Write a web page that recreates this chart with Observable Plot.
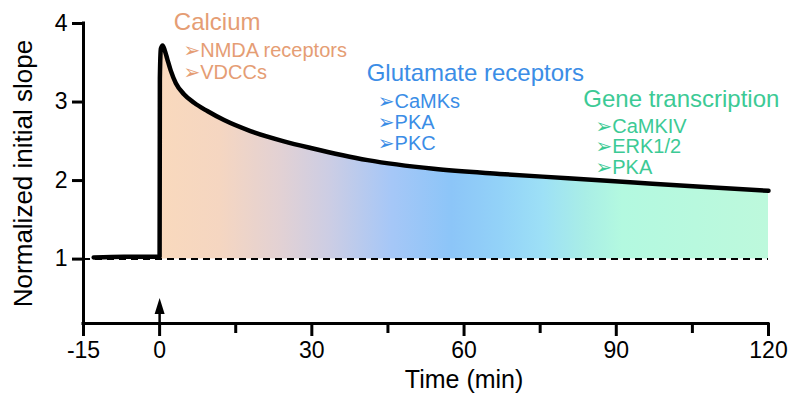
<!DOCTYPE html>
<html>
<head>
<meta charset="utf-8">
<script src="https://cdn.jsdelivr.net/npm/d3@7"></script>
<script src="https://cdn.jsdelivr.net/npm/@observablehq/plot@0.6"></script>
<style>
  html, body { margin: 0; padding: 0; background: #fff; }
</style>
</head>
<body>
<div id="chart"></div>
<script>
// ---- data ----
const time  = [-13, -7, 0, 0.05, 0.25, 0.6, 1.0, 1.5, 2.2, 3.2, 4.8, 6.8, 9.4, 12.7, 17.9, 24.5, 29.8, 41, 54, 67, 80.5, 93.5, 106.7, 120];
const slope = [1.02, 1.03, 1.03, 3.30, 3.68, 3.72, 3.66, 3.55, 3.40, 3.24, 3.10, 2.99, 2.885, 2.77, 2.63, 2.50, 2.415, 2.26, 2.15, 2.085, 2.03, 1.975, 1.92, 1.87];

const baseline = [1];
const stimulusTime = [0];
const xTicksLabeled = [-15, 0, 30, 60, 90, 120];
const xTicksMinor = [15, 45, 75, 105];
const yTicks = [1, 2, 3, 4];

const calciumHeader = ["Calcium"];
const calciumItems = ["NMDA receptors", "VDCCs"];
const glutamateHeader = ["Glutamate receptors"];
const glutamateItems = ["CaMKs", "PKA", "PKC"];
const geneHeader = ["Gene transcription"];
const geneItems = ["CaMKIV", "ERK1/2", "PKA"];

const xLabel = "Time (min)";
const yLabel = "Normalized initial slope";

// ---- styling ----
const xDomain = [-15, 120];
const yDomain = [0.18, 4];
const cCalcium = "#e59d74";
const cGlut = "#3b8de6";
const cGene = "#3cca95";
const gradStops = [
  [0.00, "#f9d9bd"], [0.10, "#f5d6c1"], [0.20, "#e2d1d4"], [0.28, "#cccde4"],
  [0.38, "#a6c7f7"], [0.48, "#8cc5f8"], [0.56, "#93d2f8"], [0.63, "#9de0f6"],
  [0.70, "#a9eee6"], [0.76, "#b3f9e0"], [1.00, "#bdf9dc"]
];

const pts = time.map((t, i) => ({t, v: slope[i]}));
const areaPts = pts.filter(d => d.t >= 0);
const arrowHead = {
  draw(ctx) { ctx.moveTo(0, -8); ctx.lineTo(5, 8); ctx.lineTo(-5, 8); ctx.closePath(); }
};
const fontMain = "Liberation Sans, Arial, DejaVu Sans, sans-serif";
const bullet = s => "\u27A2" + s;

const svg = Plot.plot({
  width: 800,
  height: 413,
  marginLeft: 83,
  marginRight: 32,
  marginTop: 23,
  marginBottom: 90,
  style: {fontFamily: fontMain, color: "#000", background: "#fff", overflow: "visible"},
  x: {domain: xDomain, label: null},
  y: {domain: yDomain, label: null},
  marks: [
    Plot.areaY(areaPts, {x: "t", y1: 1, y2: "v", fill: "url(#ltpGrad)", curve: "monotone-x"}),
    Plot.ruleY(baseline, {x1: xDomain[0], x2: xDomain[1], stroke: "#000", strokeWidth: 2, strokeDasharray: "7,5"}),
    Plot.line(pts, {x: "t", y: "v", stroke: "#000", strokeWidth: 4.5, curve: "monotone-x", strokeLinejoin: "round", strokeLinecap: "round"}),
    // axes lines
    Plot.ruleX([xDomain[0]], {stroke: "#000", strokeWidth: 3, strokeLinecap: "square"}),
    Plot.ruleY([yDomain[0]], {stroke: "#000", strokeWidth: 3, strokeLinecap: "square"}),
    Plot.axisX(xTicksLabeled, {tickSize: 13, tickPadding: 5, fontSize: 23, strokeWidth: 3, tickFormat: d => String(d), label: null}),
    Plot.axisX(xTicksMinor, {tickSize: 10, tickFormat: () => "", strokeWidth: 3, label: null}),
    Plot.axisY(yTicks, {tickSize: 11, tickPadding: 5, fontSize: 23, strokeWidth: 3, tickFormat: d => String(d), label: null}),
    // stimulus arrow
    Plot.ruleX(stimulusTime, {y1: yDomain[0], y2: 0.42, stroke: "#000", strokeWidth: 2.5}),
    Plot.dot(stimulusTime, {x: d => d, y: 0.404, symbol: arrowHead, fill: "#000", stroke: "none", r: 5}),
    // axis labels
    Plot.text([xLabel], {x: 60, frameAnchor: "bottom", dy: 64, text: d => d, fontSize: 25, textAnchor: "middle", lineAnchor: "bottom", fill: "#000"}),
    Plot.text([yLabel], {frameAnchor: "left", dx: -60, rotate: -90, text: d => d, fontSize: 26, textAnchor: "middle", fill: "#000"}),
    // annotations
    Plot.text(calciumHeader, {x: 2.8, y: 4.01, text: d => d, fill: cCalcium, fontSize: 24, textAnchor: "start"}),
    Plot.text([calciumItems.map(bullet).join("\n")], {x: 4.7, y: 3.777, text: d => d, fill: cCalcium, fontSize: 20, textAnchor: "start", lineAnchor: "top", lineHeight: 1.1}),
    Plot.text(glutamateHeader, {x: 40.8, y: 3.36, text: d => d, fill: cGlut, fontSize: 24, textAnchor: "start"}),
    Plot.text([glutamateItems.map(bullet).join("\n")], {x: 43.0, y: 3.113, text: d => d, fill: cGlut, fontSize: 20, textAnchor: "start", lineAnchor: "top", lineHeight: 1.05}),
    Plot.text(geneHeader, {x: 83.5, y: 3.03, text: d => d, fill: cGene, fontSize: 24, textAnchor: "start"}),
    Plot.text([geneItems.map(bullet).join("\n")], {x: 85.9, y: 2.794, text: d => d, fill: cGene, fontSize: 20, textAnchor: "start", lineAnchor: "top", lineHeight: 1.03})
  ]
});

// gradient definition for the area fill
const defs = d3.select(svg).insert("defs", ":first-child");
const grad = defs.append("linearGradient").attr("id", "ltpGrad")
  .attr("x1", "0").attr("x2", "1").attr("y1", "0").attr("y2", "0");
gradStops.forEach(([o, c]) => grad.append("stop").attr("offset", o).attr("stop-color", c));

document.getElementById("chart").appendChild(svg);
</script>
</body>
</html>
